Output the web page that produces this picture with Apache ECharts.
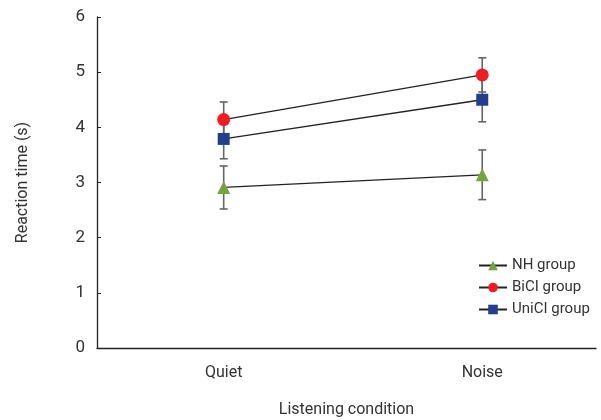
<!DOCTYPE html>
<html><head><meta charset="utf-8">
<script src="https://cdn.jsdelivr.net/npm/echarts@6/dist/echarts.min.js"></script>
<style>html,body{margin:0;padding:0;background:#fff}#c{width:601px;height:420px}</style>
</head><body><div id="c"></div>
<script>
const categories = ['Quiet', 'Noise'];
const seriesNames = ['NH group', 'BiCI group', 'UniCI group'];
const nhMean = [2.91, 3.14];
const nhErr = [0.39, 0.45];
const biciMean = [4.14, 4.95];
const biciErr = [0.32, 0.31];
const uniciMean = [3.79, 4.50];
const uniciErr = [0.36, 0.40];
const yTicks = [0, 1, 2, 3, 4, 5, 6];

const FONT = '"Liberation Sans Narrow", "Roboto", sans-serif';
const xPos = categories.map((c, i) => i + 1);

function errSeries(name, means, errs) {
  return {
    type: 'custom', name: name + ' err', silent: true, z: 1,
    data: means.map((m, i) => [xPos[i], m - errs[i], m + errs[i]]),
    renderItem: function (params, api) {
      const lo = api.coord([api.value(0), api.value(1)]);
      const hi = api.coord([api.value(0), api.value(2)]);
      const w = 4;
      const st = { stroke: '#666', lineWidth: 1.6 };
      return { type: 'group', children: [
        { type: 'line', shape: { x1: lo[0], y1: lo[1], x2: hi[0], y2: hi[1] }, style: st },
        { type: 'line', shape: { x1: lo[0] - w, y1: lo[1], x2: lo[0] + w, y2: lo[1] }, style: st },
        { type: 'line', shape: { x1: hi[0] - w, y1: hi[1], x2: hi[0] + w, y2: hi[1] }, style: st }
      ]};
    }
  };
}
function lineSeries(name, means, symbol, color, size) {
  return {
    type: 'line', name: name, z: 3,
    data: means.map((m, i) => [xPos[i], m]),
    symbol: symbol, symbolSize: size, showSymbol: true,
    lineStyle: { color: '#222', width: 1.3 },
    itemStyle: { color: color, borderWidth: 0 },
    emphasis: { disabled: true }
  };
}

const chart = echarts.init(document.getElementById('c'), null, { renderer: 'canvas' });
chart.setOption({
  animation: false,
  backgroundColor: '#fff',
  grid: { left: 97, right: 5, top: 17, bottom: 72, containLabel: false, outerBoundsMode: 'none' },
  legend: {
    orient: 'vertical', left: 473, top: 253, itemGap: 7,
    itemWidth: 28, itemHeight: 12,
    textStyle: { fontFamily: FONT, fontSize: 15, color: '#333' },
    data: seriesNames
  },
  xAxis: {
    type: 'value', min: 0.51, max: 2.44,
    name: 'Listening condition', nameLocation: 'middle', nameGap: 54,
    nameTextStyle: { fontFamily: FONT, fontSize: 16, color: '#333' },
    axisLine: { lineStyle: { color: '#222', width: 1.3 } },
    axisTick: { show: false },
    splitLine: { show: false },
    axisLabel: {
      fontFamily: FONT, fontSize: 16, color: '#333', margin: 17,
      customValues: xPos,
      formatter: v => categories[Math.round(v) - 1] || ''
    }
  },
  yAxis: {
    type: 'value', min: yTicks[0], max: yTicks[yTicks.length - 1], interval: 1,
    name: 'Reaction time (s)', nameLocation: 'middle', nameGap: 66,
    nameTextStyle: { fontFamily: FONT, fontSize: 16, color: '#333' },
    axisLine: { show: true, lineStyle: { color: '#222', width: 1.3 } },
    axisTick: { show: true, inside: true, length: 4, lineStyle: { color: '#222' } },
    splitLine: { show: false },
    axisLabel: { fontFamily: FONT, fontSize: 17, color: '#333', margin: 12 }
  },
  series: [
    errSeries('NH group', nhMean, nhErr),
    errSeries('BiCI group', biciMean, biciErr),
    errSeries('UniCI group', uniciMean, uniciErr),
    lineSeries('NH group', nhMean, 'triangle', '#76a33f', 13),
    lineSeries('BiCI group', biciMean, 'circle', '#ee1d24', 13),
    lineSeries('UniCI group', uniciMean, 'rect', '#233e8b', 12)
  ]
});
</script></body></html>
